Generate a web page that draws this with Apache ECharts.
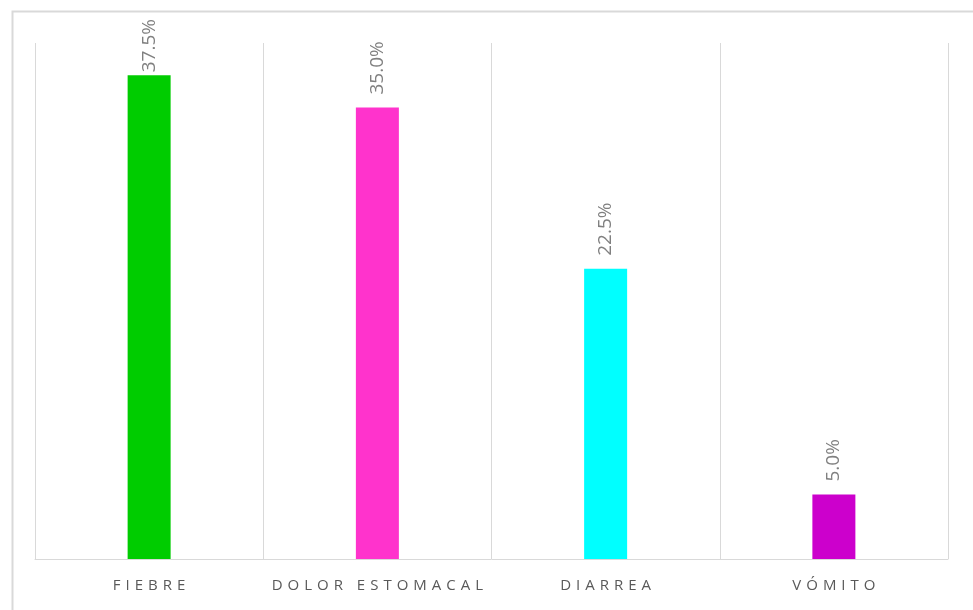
<!DOCTYPE html>
<html><head><meta charset="utf-8">
<script src="https://cdn.jsdelivr.net/npm/echarts@6/dist/echarts.min.js"></script>
<style>html,body{margin:0;padding:0;background:#fff}#c{width:973px;height:610px}</style>
</head><body><div id="c"></div>
<script>
const categories = ['FIEBRE', 'DOLOR ESTOMACAL', 'DIARREA', 'VÓMITO'];
const values = [37.5, 35.0, 22.5, 5.0];
const colors = ['#00CC00', '#FF33CC', '#00FFFF', '#CC00CC'];

const chart = echarts.init(document.getElementById('c'), null, {renderer: 'canvas'});
chart.setOption({
  backgroundColor: '#fff',
  animation: false,
  graphic: [{
    type: 'rect', left: 10, top: 9, z: -1,
    shape: {width: 1000, height: 700},
    style: {fill: 'none', stroke: '#d9d9d9', lineWidth: 2}
  }],
  grid: {left: 35, right: 25, top: 43, bottom: 51, containLabel: false},
  xAxis: {
    type: 'category', data: categories, boundaryGap: true,
    axisLine: {show: true, lineStyle: {color: '#d9d9d9', width: 1}},
    axisTick: {show: false},
    splitLine: {show: true, interval: 0, lineStyle: {color: '#d9d9d9', width: 1}},
    axisLabel: {
      interval: 0, hideOverlap: false,
      color: '#595959', fontFamily: 'Open Sans', fontSize: 15, margin: 19,
      formatter: v => v.split('').join('\u2004')
    }
  },
  yAxis: {type: 'value', min: 0, max: 40, show: false, splitLine: {show: false}},
  series: [{
    type: 'bar', barWidth: 43,
    data: values.map((v, i) => ({
      value: v, itemStyle: {color: colors[i]},
      label: i === 0 ? {distance: 3} : undefined
    })),
    label: {
      show: true, position: 'top', rotate: 90, align: 'left', verticalAlign: 'middle',
      distance: 13, color: '#808080', fontFamily: 'Open Sans', fontSize: 19,
      formatter: p => p.value.toFixed(1) + '%'
    }
  }]
});
</script></body></html>
